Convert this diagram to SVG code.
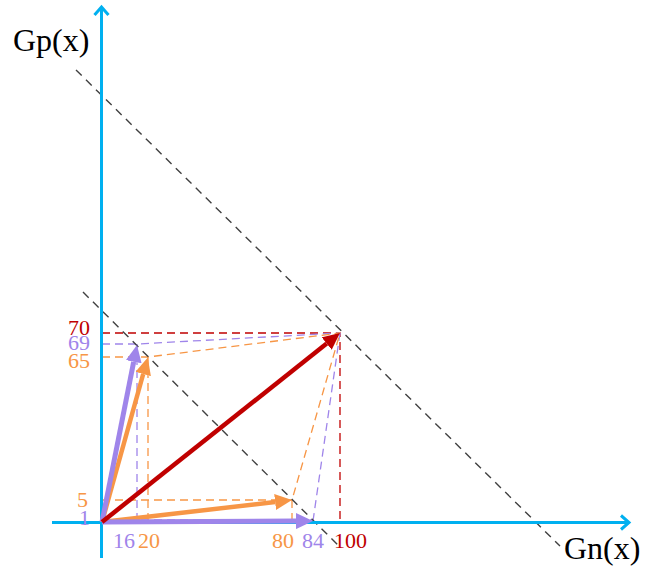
<svg xmlns="http://www.w3.org/2000/svg" width="659" height="569" viewBox="0 0 659 569">
<style>
.axis{stroke:#00B0F0;stroke-width:3;fill:none}
.guide{stroke:#404040;stroke-width:1.4;stroke-dasharray:8 6;fill:none}
.d{stroke-width:1.3;stroke-dasharray:8 5;fill:none}
.r{stroke:#C00000}.p{stroke:#9F85EA}.o{stroke:#F79646}
.lbl{font-family:"Liberation Serif","Times New Roman",serif;font-size:22px}
.big{font-family:"Liberation Serif","Times New Roman",serif;font-size:32px;fill:#000}
.tr{fill:#C00000}.tp{fill:#9F85EA}.to{fill:#F79646}
</style>
<defs>
<marker id="hr" markerUnits="userSpaceOnUse" markerWidth="18" markerHeight="16" refX="0" refY="8" orient="auto"><path d="M0,0 L17,8 L0,16 z" fill="#C00000"/></marker>
<marker id="hp" markerUnits="userSpaceOnUse" markerWidth="18" markerHeight="16" refX="0" refY="8" orient="auto"><path d="M0,0 L17,8 L0,16 z" fill="#9F85EA"/></marker>
<marker id="ho" markerUnits="userSpaceOnUse" markerWidth="18" markerHeight="16" refX="0" refY="8" orient="auto"><path d="M0,0 L17,8 L0,16 z" fill="#F79646"/></marker>
</defs>
<g id="connectors">
<!-- guide dashed lines -->
<path class="d r" d="M102,333 H340 V522"/>
<path class="d p" d="M102,344 H137 L340,333 M137,344 V522 M313,521 L340,333 M102,520 H313"/>
<path class="d o" d="M102,357 H148 L340,333 M148,357 V522 M102,500 H292 L340,333 M292,500 V522"/>
<!-- black dashed -->
<path class="guide" d="M76,70 L560,546"/>
<path class="guide" d="M83,292 L338,545"/>
<!-- axes -->
<path class="axis" d="M101.5,558 V7 M94.5,15 L101.5,7 L108.5,15"/>
<path class="axis" d="M52,522.5 H629 M621,515.5 L629,522.5 L621,529.5"/>
<!-- vectors -->
<line x1="102" y1="522" x2="143.2" y2="374" stroke="#F79646" stroke-width="4.5" marker-end="url(#ho)"/>
<line x1="102" y1="522" x2="275.1" y2="502" stroke="#F79646" stroke-width="4.5" marker-end="url(#ho)"/>
<line x1="102" y1="522" x2="133.7" y2="361.7" stroke="#9F85EA" stroke-width="5" marker-end="url(#hp)"/>
<line x1="102" y1="522" x2="296" y2="521.1" stroke="#9F85EA" stroke-width="5" marker-end="url(#hp)"/>
<line x1="102" y1="522" x2="326.7" y2="343.6" stroke="#C00000" stroke-width="4.5" marker-end="url(#hr)"/>
</g>
<g id="axis-labels">
<text class="big" x="13" y="51">Gp(x)</text>
<text class="big" x="564" y="559">Gn(x)</text>
</g>
<g id="y-labels">
<text class="lbl tr" x="68" y="335">70</text>
<text class="lbl tp" x="68" y="350">69</text>
<text class="lbl to" x="68" y="368">65</text>
<text class="lbl to" x="77" y="507">5</text>
<text class="lbl tp" x="79" y="525">1</text>
</g>
<g id="x-labels">
<text class="lbl tp" x="113" y="548">16</text>
<text class="lbl to" x="138" y="548">20</text>
<text class="lbl to" x="272" y="548">80</text>
<text class="lbl tp" x="302" y="548">84</text>
<text class="lbl tr" x="334" y="548">100</text>
</g>
</svg>
